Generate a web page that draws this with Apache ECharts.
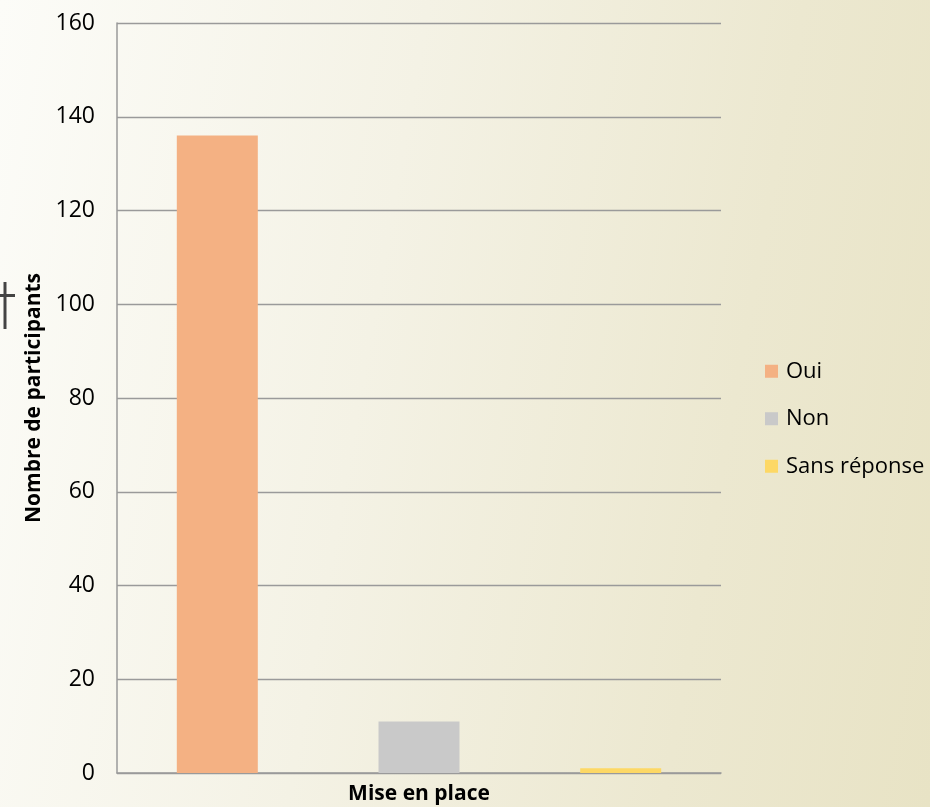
<!DOCTYPE html>
<html>
<head>
<meta charset="utf-8">
<script src="https://cdn.jsdelivr.net/npm/echarts@6/dist/echarts.min.js"></script>
<style>
  html, body { margin: 0; padding: 0; }
  #chart { width: 930px; height: 807px;
    background: linear-gradient(100deg, #fcfcf8 0%, #f4f2e5 40%, #ece8d0 75%, #e8e3c5 100%); }
</style>
</head>
<body>
<div id="chart"></div>
<script>
const categories = ['Mise en place'];
const seriesNames = ['Oui', 'Non', 'Sans réponse'];
const oui = [136];
const non = [11];
const sansReponse = [1];
const yTicks = [0, 20, 40, 60, 80, 100, 120, 140, 160];

const colors = ['#f4b183', '#c9c9c9', '#fdd865'];
const font = 'Open Sans';

const chart = echarts.init(document.getElementById('chart'), null, { renderer: 'canvas' });
const mk = (name, data, i) => ({
  name, type: 'bar', data,
  barWidth: 81, barGap: '149%',
  itemStyle: { color: colors[i] },
  emphasis: { disabled: true }
});
chart.setOption({
  animation: false,
  textStyle: { fontFamily: font },
  grid: { left: 117, right: 209, top: 23, bottom: 34, containLabel: false },
  legend: {
    orient: 'vertical', left: 760, top: 354,
    itemWidth: 13, itemHeight: 13, itemGap: 23,
    icon: 'rect',
    data: seriesNames,
    textStyle: { fontFamily: font, fontSize: 22, color: '#000', lineHeight: 24.5, padding: [0, 0, 0, 3] }
  },
  xAxis: {
    type: 'category', data: categories,
    axisLine: { show: true, lineStyle: { color: '#9a9a9a', width: 1.5 } },
    axisTick: { show: false },
    axisLabel: { color: '#000', fontFamily: font, fontWeight: 'bold', fontSize: 21, margin: 11 }
  },
  yAxis: {
    type: 'value', min: yTicks[0], max: yTicks[yTicks.length - 1], interval: 20,
    name: 'Nombre de participants', nameLocation: 'middle', nameRotate: 90, nameGap: 71,
    nameTextStyle: { color: '#000', fontFamily: font, fontWeight: 'bold', fontSize: 21 },
    axisLine: { show: true, lineStyle: { color: '#9a9a9a', width: 1.5 } },
    axisTick: { show: false },
    axisLabel: { color: '#000', fontFamily: font, fontSize: 23, margin: 22 },
    splitLine: { show: true, lineStyle: { color: '#9a9a9a', width: 1.3 } }
  },
  series: [mk(seriesNames[0], oui, 0), mk(seriesNames[1], non, 1), mk(seriesNames[2], sansReponse, 2)],
  graphic: [
    { type: 'line', shape: { x1: 5, y1: 282, x2: 5, y2: 329 }, style: { stroke: '#444', lineWidth: 3 } },
    { type: 'line', shape: { x1: 0, y1: 295.5, x2: 15, y2: 295.5 }, style: { stroke: '#444', lineWidth: 3 } }
  ]
});
</script>
</body>
</html>
